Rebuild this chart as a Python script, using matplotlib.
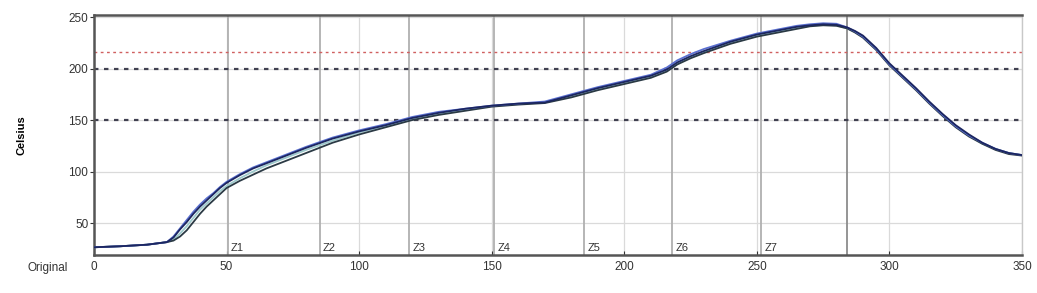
import matplotlib.pyplot as plt

# time axis (shared by all traces)
x = [0, 10, 20, 27.5, 30, 32.5, 35, 37.5, 40, 42.5, 45, 47.5, 50, 55, 60, 65,
     70, 80, 90, 100, 110, 120, 130, 140, 150, 160, 170, 180, 190, 200, 210,
     216, 220, 225, 230, 240, 250, 260, 265, 270, 275, 280, 284, 287, 290, 295,
     300, 305, 310, 315, 320, 325, 330, 335, 340, 345, 350]

# probe traces
probe_blue = [26.5, 27.5, 29, 31.5, 37, 45, 53, 61, 68, 74, 79, 85, 90, 97.5,
              104, 109, 114, 124, 133, 140, 146, 153, 158, 161, 164, 166, 168,
              175, 182, 188, 194, 201, 208, 214, 219, 227, 234, 239, 241.5, 243,
              244, 243.5, 240, 236, 231, 219, 204, 192, 180, 167, 155, 144, 135,
              128, 122, 118, 116]
probe_navy = [26.5, 27.5, 29, 31.5, 36, 44, 51, 59, 66, 72, 78, 84, 89, 96.5,
              103, 108, 113, 123, 132, 139, 145, 152, 157, 161, 164, 166, 167,
              174, 181, 187, 193, 199, 206, 212, 217, 226, 233, 238, 240.5, 242,
              243, 242.5, 240, 236.5, 232, 220, 205, 193, 181, 168, 156, 145,
              136, 128, 122, 118, 116]
probe_cyan = [26.5, 27.5, 29, 31.5, 34, 40, 47, 55, 63, 69, 75, 81, 86, 93.5,
              100, 106, 111, 121, 130, 138, 144, 151, 156, 160, 163.5, 165.5,
              167, 173, 180, 186, 192, 198, 205, 211, 216, 225, 232, 237, 239.5,
              241.5, 242.5, 242, 239, 235.5, 231, 219, 204, 192, 180, 167, 155,
              144, 135, 127, 122, 118, 116]
probe_dark = [26.5, 27.5, 29, 31.5, 33, 37, 43, 51, 59, 66, 72, 78, 84, 91, 97,
              103, 108, 118, 128, 136, 143, 150, 155, 159, 163, 165, 166.5, 172,
              179, 185, 191, 197, 204, 210, 215, 224, 231, 236, 238.5, 241, 242,
              241.5, 239, 235, 230, 218, 203, 191, 179, 166, 154, 143, 134, 127,
              121, 117, 115.5]

traces = [(probe_cyan, '#9cc9cc'), (probe_dark, '#2b3a45'),
          (probe_blue, '#5a6fd0'), (probe_navy, '#1c2660')]

zone_x = [50.5, 85.2, 118.8, 150.9, 184.9, 218, 251.6]
zone_names = ['Z1', 'Z2', 'Z3', 'Z4', 'Z5', 'Z6', 'Z7']
end_x = 284
limit_lines = [150, 200]
peak_limit = 216

plt.rcParams['font.family'] = ['Liberation Sans', 'DejaVu Sans']

fig = plt.figure(figsize=(10.37, 2.93), dpi=100)
ax = fig.add_axes([0.0906, 0.1297, 0.895, 0.8191])

ax.set_xlim(0, 350)
ax.set_ylim(19, 252)
ax.set_xticks(range(0, 351, 50))
ax.set_yticks([50, 100, 150, 200, 250])
ax.grid(True, color='#dadada', linewidth=0.9)
ax.set_axisbelow(True)

for zx, zn in zip(zone_x, zone_names):
    ax.axvline(zx, color='#b0b0b0', linewidth=1.3, zorder=1)
    ax.text(zx + 1.2, 21, zn, fontsize=8, color='#333333', va='bottom', ha='left')
ax.axvline(end_x, color='#8c8c8c', linewidth=1.3, zorder=1)

for lv in limit_lines:
    ax.axhline(lv, color='#404050', linestyle=(0, (2, 2.5)), linewidth=1.6, zorder=2)
ax.axhline(peak_limit, color='#d06060', linestyle=(0, (2, 2.5)), linewidth=1.0, zorder=2)

for ys, c in traces:
    ax.plot(x, ys, color=c, linewidth=1.3, zorder=3, solid_joinstyle='round')

for side in ['top', 'bottom', 'left']:
    ax.spines[side].set_color('#555555')
    ax.spines[side].set_linewidth(1.8)
ax.spines['right'].set_color('#c8c8c8')
ax.spines['right'].set_linewidth(1.0)

ax.tick_params(axis='y', direction='out', length=3, labelsize=8.5, colors='#333333', pad=1)
ax.tick_params(axis='x', direction='in', length=3, labelsize=8.5, colors='#333333', pad=4)

ax.set_ylabel('Celsius', fontsize=8, fontweight='bold', labelpad=30)
fig.text(0.046, 0.085, 'Original', fontsize=8.5, color='#333333', ha='center', va='center')

fig.savefig('out.png', dpi=100)
